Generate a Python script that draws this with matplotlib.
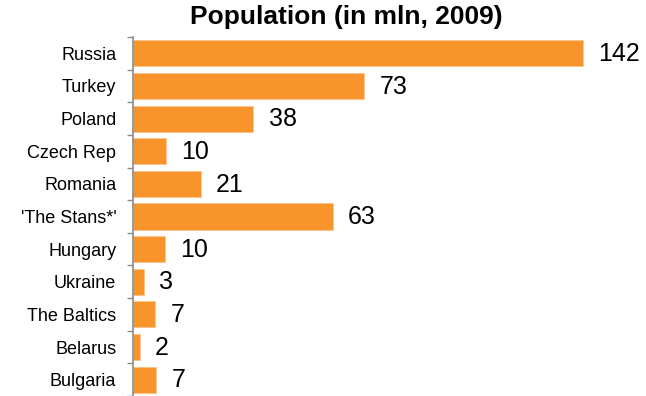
import matplotlib
matplotlib.use("Agg")
import matplotlib.pyplot as plt

categories = ["Russia", "Turkey", "Poland", "Czech Rep", "Romania", "'The Stans*'",
              "Hungary", "Ukraine", "The Baltics", "Belarus", "Bulgaria"]
values = [142, 73, 38, 10.3, 21.4, 63, 10, 3.4, 7, 2.2, 7.4]
labels = ["142", "73", "38", "10", "21", "63", "10", "3", "7", "2", "7"]

plt.rcParams['font.family'] = ['Liberation Sans', 'DejaVu Sans']

fig = plt.figure(figsize=(6.46, 3.96), dpi=100)
ax = fig.add_axes([133/646, 0.0, (640-133)/646, (396-37)/396])

y = list(range(len(categories)))
ax.barh(y, values, height=0.8, color="#F7942C", edgecolor="#FBC48A", linewidth=0.6)
ax.set_ylim(len(categories) - 0.5, -0.5)
ax.set_xlim(0, 160)
ax.set_yticks(y)
ax.set_yticklabels(categories, fontsize=13)
ax.set_yticks([i + 0.5 for i in range(-1, len(categories))], minor=True)
ax.tick_params(axis='y', which='major', length=0, pad=12)
ax.tick_params(axis='y', which='minor', length=4, width=1, color="#8c8c8c", direction='out')
ax.set_xticks([])
for s in ["top", "right", "bottom"]:
    ax.spines[s].set_visible(False)
ax.spines["left"].set_color("#8c8c8c")
ax.spines["left"].set_linewidth(1.2)

for yi, v, lab in zip(y, values, labels):
    ax.annotate(lab, xy=(v, yi), xytext=(11, -0.5), textcoords="offset points",
                va="center", ha="left", fontsize=18, color="black")

fig.text(0.536, 1 - 17/396, "Population (in mln, 2009)", ha="center", va="center",
         fontsize=19, fontweight="bold")

fig.savefig("out.png", dpi=100)
